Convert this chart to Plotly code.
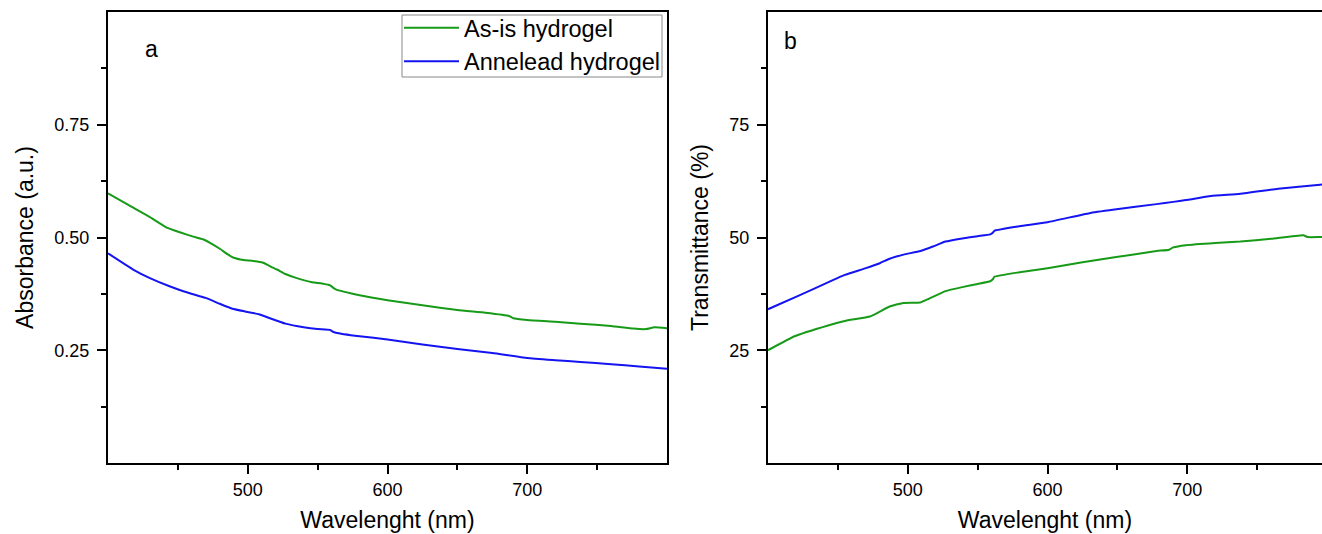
import plotly.graph_objects as go

# Absorbance spectra (panel a)
wl_abs_asis = [400, 418, 430, 442, 452, 461, 468, 473, 480, 486, 490, 497, 504, 511, 518, 521,
               527, 534, 546, 553, 559, 561, 563, 580, 600, 625, 650, 670, 687, 690, 700, 720,
               738, 760, 776, 785, 791, 800]
abs_asis = [0.598, 0.566, 0.545, 0.522, 0.511, 0.502, 0.496, 0.488, 0.475, 0.462, 0.455, 0.450,
            0.448, 0.444, 0.433, 0.429, 0.419, 0.411, 0.401, 0.398, 0.394, 0.389, 0.385, 0.372,
            0.361, 0.350, 0.339, 0.333, 0.326, 0.321, 0.317, 0.313, 0.309, 0.304, 0.298, 0.297,
            0.301, 0.299]

wl_abs_ann = [400, 418, 430, 444, 458, 470, 480, 489, 498, 508, 515, 527, 540, 550, 559, 561,
              563, 580, 600, 625, 650, 675, 700, 720, 738, 760, 780, 800]
abs_ann = [0.465, 0.429, 0.410, 0.392, 0.377, 0.366, 0.353, 0.342, 0.336, 0.330, 0.322, 0.309,
           0.301, 0.297, 0.295, 0.291, 0.289, 0.281, 0.274, 0.263, 0.253, 0.244, 0.233, 0.228,
           0.224, 0.219, 0.214, 0.209]

# Transmittance spectra (panel b)
wl_tr_asis = [400, 419, 443, 455, 473, 479, 487, 497, 509, 515, 527, 539, 550, 559, 561, 562,
              580, 600, 625, 648, 678, 687, 690, 699, 720, 738, 760, 783, 786, 795, 800]
tr_asis = [25.0, 28.1, 30.5, 31.5, 32.5, 33.4, 34.7, 35.5, 35.6, 36.4, 38.1, 39.0, 39.7, 40.3,
           40.8, 41.3, 42.3, 43.2, 44.5, 45.6, 47.0, 47.3, 47.8, 48.3, 48.8, 49.1, 49.7, 50.5,
           50.1, 50.1, 50.1]

wl_tr_ann = [400, 422, 446, 455, 470, 480, 487, 497, 509, 518, 527, 539, 550, 559, 561, 562,
             580, 600, 630, 648, 678, 690, 699, 717, 738, 765, 795, 800]
tr_ann = [34.1, 37.1, 40.5, 41.7, 43.2, 44.3, 45.3, 46.2, 47.0, 48.0, 49.1, 49.8, 50.3, 50.7,
          51.1, 51.5, 52.5, 53.4, 55.4, 56.2, 57.4, 57.9, 58.3, 59.2, 59.7, 60.8, 61.7, 61.8]

x_ticks = [500, 600, 700]
abs_ticks = [0.25, 0.50, 0.75]
abs_ticktext = ["0.25", "0.50", "0.75"]
tr_ticks = [25, 50, 75]

GREEN = "#179a17"
BLUE = "#1414f2"
FONT = "Arial, Liberation Sans, sans-serif"
W, H = 1322, 534
PLOT_H = 451  # plot-area height in px (H minus top and bottom margins)

line_green = dict(color=GREEN, width=2, shape="spline", smoothing=0.4)
line_blue = dict(color=BLUE, width=2, shape="spline", smoothing=0.4)

fig = go.Figure()
fig.add_trace(go.Scatter(x=wl_abs_asis, y=abs_asis, mode="lines", name="As-is hydrogel",
                         line=line_green, xaxis="x", yaxis="y"))
fig.add_trace(go.Scatter(x=wl_abs_ann, y=abs_ann, mode="lines", name="Annelead hydrogel",
                         line=line_blue, xaxis="x", yaxis="y"))
fig.add_trace(go.Scatter(x=wl_tr_asis, y=tr_asis, mode="lines", showlegend=False,
                         line=line_green, xaxis="x2", yaxis="y2"))
fig.add_trace(go.Scatter(x=wl_tr_ann, y=tr_ann, mode="lines", showlegend=False,
                         line=line_blue, xaxis="x2", yaxis="y2"))

axis_common = dict(showline=True, linecolor="black", linewidth=2, ticks="outside",
                   ticklen=9, tickwidth=1.5, tickcolor="black", showgrid=False,
                   zeroline=False, automargin=False,
                   tickfont=dict(family=FONT, size=18, color="black"))
minor_common = dict(ticks="outside", ticklen=5, tickwidth=1.5, tickcolor="black", showgrid=False)

fig.update_layout(
    width=W, height=H,
    margin=dict(l=0, r=0, t=12, b=71),
    paper_bgcolor="white", plot_bgcolor="white",
    font=dict(family=FONT, color="black"),
    xaxis=dict(domain=[108 / W, 667 / W], range=[400, 800], tickvals=x_ticks,
               mirror=True, anchor="y",
               minor=dict(tickvals=[450, 550, 650, 750], **minor_common),
               title=dict(text="Wavelenght (nm)", font=dict(size=23), standoff=13),
               **axis_common),
    yaxis=dict(domain=[0, 1], range=[0, 1.0], tickvals=abs_ticks, ticktext=abs_ticktext,
               mirror=True, anchor="x", ticklabelstandoff=4,
               minor=dict(tickvals=[0.125, 0.375, 0.625, 0.875], **minor_common),
               title=dict(text="Absorbance (a.u.)", font=dict(size=23), standoff=14),
               **axis_common),
    xaxis2=dict(domain=[768 / W, 1.0], range=[400, 796.4], tickvals=x_ticks,
                mirror=True, anchor="y2",
                minor=dict(tickvals=[450, 550, 650, 750], **minor_common),
                title=dict(text="Wavelenght (nm)", font=dict(size=23), standoff=13),
                **axis_common),
    yaxis2=dict(domain=[0, 1], range=[0, 100], tickvals=tr_ticks,
                mirror=False, anchor="x2", ticklabelstandoff=4,
                minor=dict(tickvals=[12.5, 37.5, 62.5, 87.5], **minor_common),
                title=dict(text="Transmittance (%)", font=dict(size=23), standoff=14),
                **axis_common),
    legend=dict(x=399 / W, y=1 + 6 / PLOT_H, xanchor="left", yanchor="top",
                bgcolor="rgba(0,0,0,0)", borderwidth=0,
                font=dict(family=FONT, size=23.5, color="black"),
                itemwidth=55, tracegroupgap=0),
    shapes=[
        # legend frame
        dict(type="rect", xref="paper", yref="paper",
             x0=402 / W, x1=662 / W, y0=1 - 77 / PLOT_H + 12 / PLOT_H, y1=1 - 3 / PLOT_H,
             line=dict(color="#888888", width=1), fillcolor="white", layer="below"),
    ],
    annotations=[
        dict(text="a", x=431, y=0.917, xref="x", yref="y", showarrow=False,
             font=dict(family=FONT, size=23, color="black")),
        dict(text="b", x=416, y=93.5, xref="x2", yref="y2", showarrow=False,
             font=dict(family=FONT, size=23, color="black")),
    ],
)

fig.write_html("out.html")
